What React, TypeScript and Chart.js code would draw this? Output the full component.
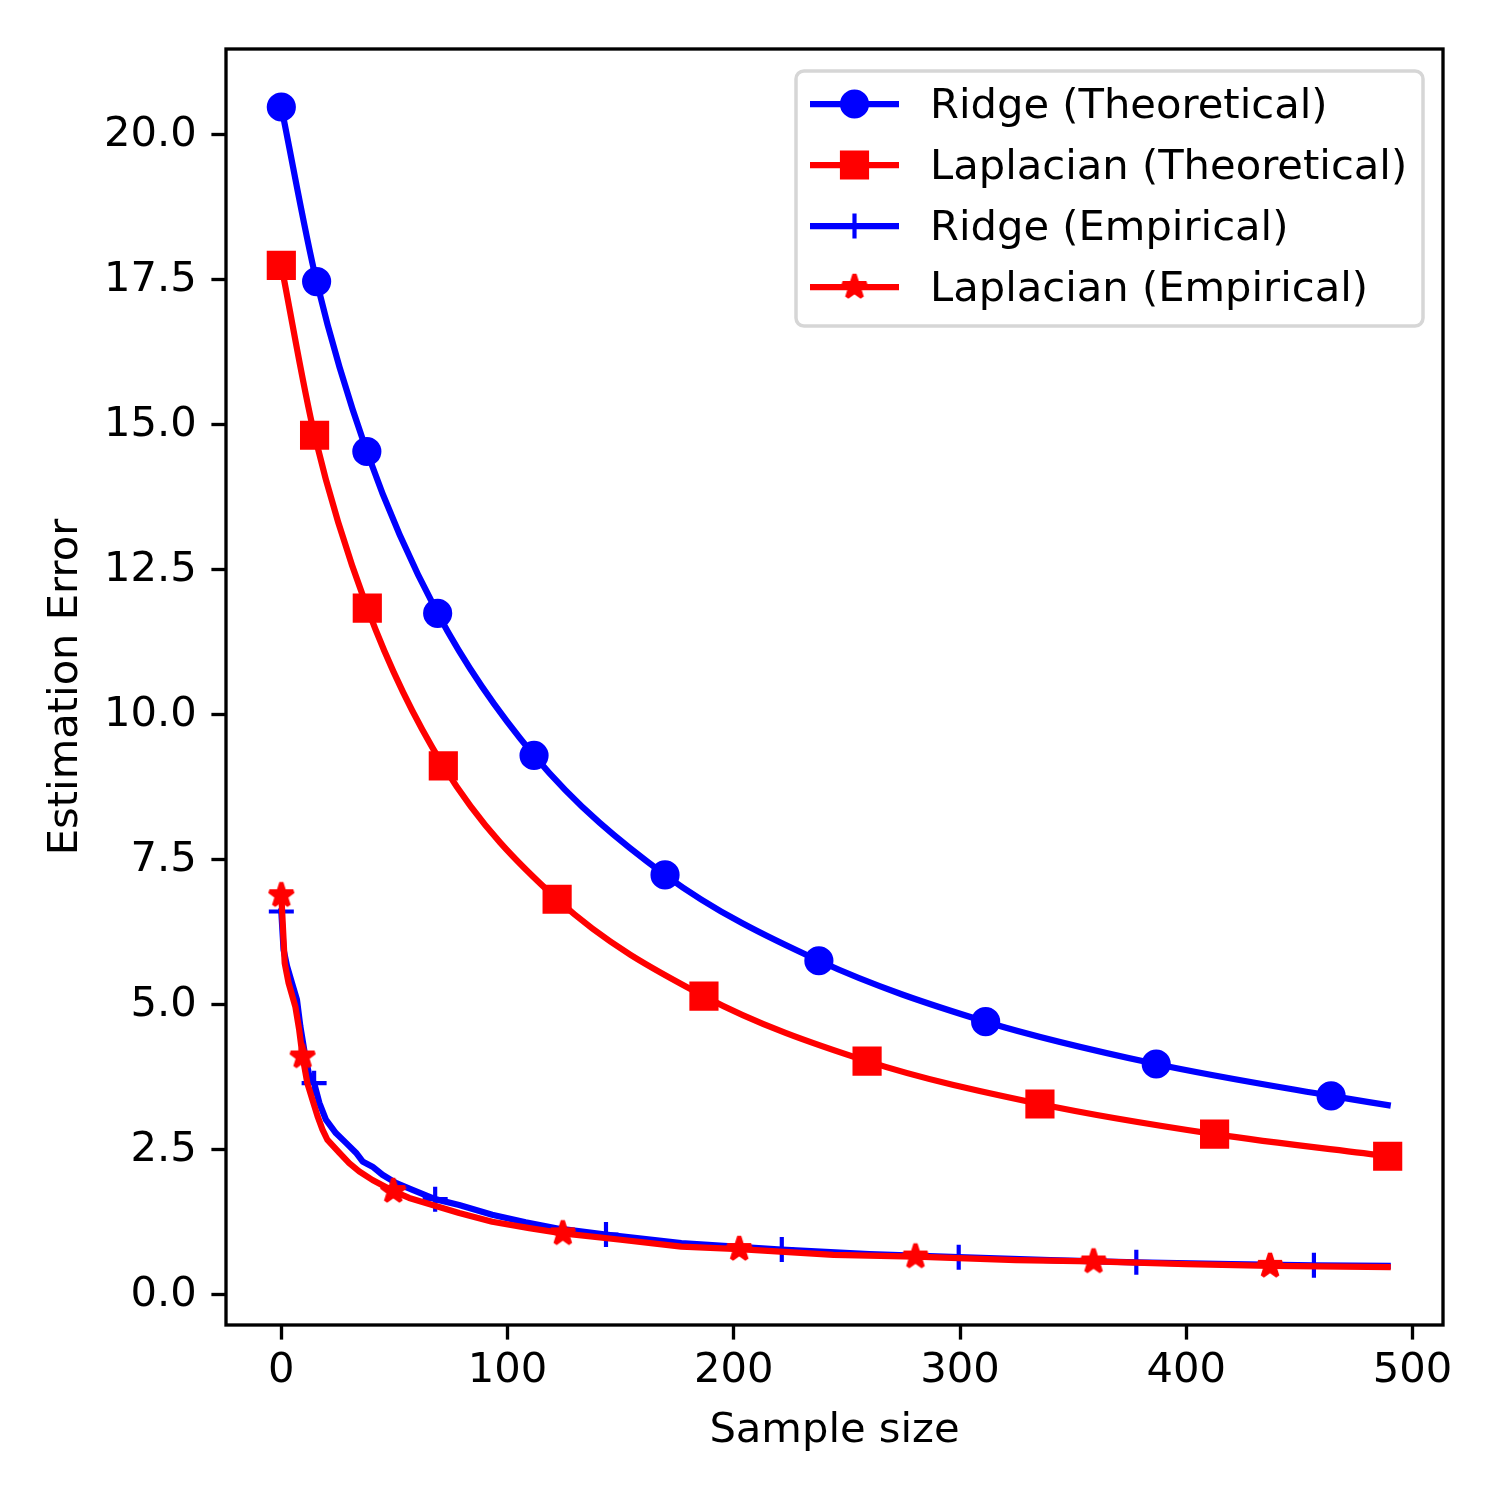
import React, { useEffect, useRef } from 'react';
import { Chart, registerables } from 'chart.js';

Chart.register(...registerables);

// ---------------- data ----------------
const RIDGE_TH_X = [0, 15.6, 37.8, 69.1, 111.7, 169.6, 237.6, 311.3, 386.7, 464, 489];
const RIDGE_TH_Y = [20.48, 17.47, 14.54, 11.75, 9.3, 7.24, 5.76, 4.71, 3.98, 3.43, 3.27];
const RIDGE_TH_MARKERS = [0, 15.6, 37.8, 69.1, 111.7, 169.6, 237.6, 311.3, 386.7, 464];

const LAP_TH_X = [0, 14.7, 38, 71.6, 121.9, 186.8, 258.9, 335.3, 412.5, 489];
const LAP_TH_Y = [17.75, 14.82, 11.84, 9.12, 6.82, 5.15, 4.03, 3.29, 2.77, 2.39];
const LAP_TH_MARKERS = [0, 14.7, 38, 71.6, 121.9, 186.8, 258.9, 335.3, 412.5, 489];

const RIDGE_EMP_X = [0, 1, 2.5, 4.7, 6.9, 8.4, 10.6, 12.4, 14.5, 16.8, 19.7, 24.1, 28.6, 33, 35.9, 40.3, 44.7, 50.6, 58, 68, 78.6, 93.2, 108, 122.7, 143.5, 176.8, 221.2, 260, 299.4, 340, 377.9, 420, 456.4, 489];
const RIDGE_EMP_Y = [6.61, 5.95, 5.67, 5.38, 5.09, 4.63, 4.11, 3.77, 3.65, 3.31, 3.02, 2.79, 2.62, 2.45, 2.3, 2.21, 2.07, 1.93, 1.81, 1.65, 1.55, 1.38, 1.25, 1.14, 1.04, 0.89, 0.78, 0.7, 0.65, 0.6, 0.56, 0.53, 0.51, 0.5];
const RIDGE_EMP_MARKERS = [0, 14.5, 68, 143.5, 221.2, 299.4, 377.9, 456.4];

const LAP_EMP_X = [0, 1.5, 3.2, 6.2, 7.9, 9.4, 11.5, 13.8, 16, 18.2, 20.4, 25.6, 30, 34.4, 40.3, 49.5, 56.5, 66.8, 78.6, 93.2, 109.6, 124.4, 150, 176.8, 202.4, 244, 280.3, 324.7, 359, 400, 437, 489];
const LAP_EMP_Y = [6.89, 5.72, 5.38, 4.97, 4.57, 4.11, 3.65, 3.36, 3.08, 2.85, 2.67, 2.45, 2.27, 2.13, 1.98, 1.79, 1.67, 1.55, 1.41, 1.26, 1.15, 1.06, 0.95, 0.83, 0.79, 0.69, 0.66, 0.6, 0.575, 0.53, 0.5, 0.48];
const LAP_EMP_MARKERS = [0, 9.4, 49.5, 124.4, 202.4, 280.3, 359, 437];

const SERIES_LABELS = ['Ridge (Theoretical)', 'Laplacian (Theoretical)', 'Ridge (Empirical)', 'Laplacian (Empirical)'];

const X_TICKS = [0, 100, 200, 300, 400, 500];
const X_TICK_LABELS = ['0', '100', '200', '300', '400', '500'];
const Y_TICKS = [0, 2.5, 5, 7.5, 10, 12.5, 15, 17.5, 20];
const Y_TICK_LABELS = ['0.0', '2.5', '5.0', '7.5', '10.0', '12.5', '15.0', '17.5', '20.0'];

const X_TITLE = 'Sample size';
const Y_TITLE = 'Estimation Error';

// ---------------- style ----------------
const FONT_FAMILY = "'DejaVu Sans', 'Liberation Sans', sans-serif";
const FONT_SIZE = 41.67;
const LINE_W = 6.25;
const EDGE_W = 4.17;
const MS = 25; // marker size in px
const BLUE = '#0000ff';
const RED = '#ff0000';

function makeStar(color: string): HTMLCanvasElement {
  const c = document.createElement('canvas');
  c.width = 34;
  c.height = 34;
  const ctx = c.getContext('2d')!;
  const R = MS / 2;
  const r = R * 0.381966;
  ctx.beginPath();
  for (let i = 0; i < 10; i++) {
    const ang = -Math.PI / 2 + (i * Math.PI) / 5;
    const rad = i % 2 === 0 ? R : r;
    const x = 17 + rad * Math.cos(ang);
    const y = 17 + rad * Math.sin(ang);
    if (i === 0) ctx.moveTo(x, y);
    else ctx.lineTo(x, y);
  }
  ctx.closePath();
  ctx.fillStyle = color;
  ctx.fill();
  ctx.lineWidth = EDGE_W;
  ctx.lineJoin = 'bevel';
  ctx.strokeStyle = color;
  ctx.stroke();
  return c;
}

function pts(xs: number[], ys: number[]) {
  return xs.map((x, i) => ({ x, y: ys[i] }));
}

function radii(xs: number[], markers: number[], r: number) {
  return xs.map((x) => (markers.includes(x) ? r : 0));
}

export default function App() {
  const ref = useRef<HTMLCanvasElement | null>(null);

  useEffect(() => {
    document.body.style.margin = '0';
    const canvas = ref.current!;
    const star = makeStar(RED);

    const frameAndLegend = {
      id: 'frameAndLegend',
      afterDatasetsDraw(chart: any) {
        const ctx = chart.ctx as CanvasRenderingContext2D;
        const a = chart.chartArea;
        ctx.save();
        ctx.strokeStyle = '#000000';
        ctx.lineWidth = 3.33;
        ctx.strokeRect(a.left, a.top, a.right - a.left, a.bottom - a.top);
        ctx.restore();
      },
      afterDraw(chart: any) {
        const ctx = chart.ctx as CanvasRenderingContext2D;
        ctx.save();
        // legend box
        const bx = 796, by = 71, bw = 627, bh = 255, br = 8;
        ctx.beginPath();
        ctx.moveTo(bx + br, by);
        ctx.lineTo(bx + bw - br, by);
        ctx.arcTo(bx + bw, by, bx + bw, by + br, br);
        ctx.lineTo(bx + bw, by + bh - br);
        ctx.arcTo(bx + bw, by + bh, bx + bw - br, by + bh, br);
        ctx.lineTo(bx + br, by + bh);
        ctx.arcTo(bx, by + bh, bx, by + bh - br, br);
        ctx.lineTo(bx, by + br);
        ctx.arcTo(bx, by, bx + br, by, br);
        ctx.closePath();
        ctx.fillStyle = 'rgba(255,255,255,0.8)';
        ctx.fill();
        ctx.strokeStyle = '#d6d6d6';
        ctx.lineWidth = 3.5;
        ctx.stroke();

        const rows = [104, 165, 226, 287];
        const colors = [BLUE, RED, BLUE, RED];
        const x0 = 810, x1 = 899, xm = 854.5;
        rows.forEach((y, i) => {
          ctx.beginPath();
          ctx.moveTo(x0, y);
          ctx.lineTo(x1, y);
          ctx.strokeStyle = colors[i];
          ctx.lineWidth = LINE_W;
          ctx.lineCap = 'butt';
          ctx.stroke();
          ctx.fillStyle = colors[i];
          ctx.strokeStyle = colors[i];
          ctx.lineWidth = EDGE_W;
          if (i === 0) {
            ctx.beginPath();
            ctx.arc(xm, y, MS / 2, 0, Math.PI * 2);
            ctx.fill();
            ctx.stroke();
          } else if (i === 1) {
            ctx.beginPath();
            ctx.rect(xm - MS / 2, y - MS / 2, MS, MS);
            ctx.fill();
            ctx.lineJoin = 'miter';
            ctx.stroke();
          } else if (i === 2) {
            ctx.beginPath();
            ctx.moveTo(xm - MS / 2, y);
            ctx.lineTo(xm + MS / 2, y);
            ctx.moveTo(xm, y - MS / 2);
            ctx.lineTo(xm, y + MS / 2);
            ctx.stroke();
          } else {
            ctx.drawImage(star, xm - star.width / 2, y - star.height / 2);
          }
          ctx.fillStyle = '#000000';
          ctx.font = `${FONT_SIZE}px ${FONT_FAMILY}`;
          ctx.textBaseline = 'middle';
          ctx.textAlign = 'left';
          ctx.fillText(SERIES_LABELS[i], 930, y + 3);
        });
        ctx.restore();
      },
    };

    const tickFont = { family: FONT_FAMILY, size: FONT_SIZE };

    const chart = new Chart(canvas, {
      type: 'line',
      data: {
        datasets: [
          {
            label: SERIES_LABELS[0],
            data: pts(RIDGE_TH_X, RIDGE_TH_Y),
            borderColor: BLUE,
            backgroundColor: BLUE,
            borderWidth: LINE_W,
            cubicInterpolationMode: 'monotone',
            pointStyle: 'circle',
            pointRadius: radii(RIDGE_TH_X, RIDGE_TH_MARKERS, MS / 2),
            pointBorderWidth: EDGE_W,
            pointBackgroundColor: BLUE,
            pointBorderColor: BLUE,
            fill: false,
            order: 4,
          },
          {
            label: SERIES_LABELS[1],
            data: pts(LAP_TH_X, LAP_TH_Y),
            borderColor: RED,
            backgroundColor: RED,
            borderWidth: LINE_W,
            cubicInterpolationMode: 'monotone',
            pointStyle: 'rect',
            pointRadius: radii(LAP_TH_X, LAP_TH_MARKERS, (MS / 2) * Math.SQRT2),
            pointBorderWidth: EDGE_W,
            pointBackgroundColor: RED,
            pointBorderColor: RED,
            fill: false,
            order: 3,
          },
          {
            label: SERIES_LABELS[2],
            data: pts(RIDGE_EMP_X, RIDGE_EMP_Y),
            borderColor: BLUE,
            backgroundColor: BLUE,
            borderWidth: LINE_W,
            tension: 0,
            pointStyle: 'cross',
            pointRadius: radii(RIDGE_EMP_X, RIDGE_EMP_MARKERS, MS / 2),
            pointBorderWidth: EDGE_W,
            pointBackgroundColor: BLUE,
            pointBorderColor: BLUE,
            fill: false,
            order: 2,
          },
          {
            label: SERIES_LABELS[3],
            data: pts(LAP_EMP_X, LAP_EMP_Y),
            borderColor: RED,
            backgroundColor: RED,
            borderWidth: LINE_W,
            tension: 0,
            pointStyle: star as any,
            pointRadius: radii(LAP_EMP_X, LAP_EMP_MARKERS, MS / 2),
            pointBorderWidth: 0,
            pointBackgroundColor: RED,
            pointBorderColor: RED,
            fill: false,
            order: 1,
          },
        ],
      },
      options: {
        animation: false,
        responsive: false,
        devicePixelRatio: 1,
        events: [],
        layout: { padding: { left: 0, top: 49, right: 57, bottom: 0 } },
        elements: {
          line: { borderJoinStyle: 'round', borderCapStyle: 'square' },
          point: { hoverRadius: 0 },
        },
        plugins: {
          legend: { display: false },
          tooltip: { enabled: false },
        },
        scales: {
          x: {
            type: 'linear',
            min: -24.45,
            max: 513.45,
            afterBuildTicks: (scale: any) => {
              scale.ticks = X_TICKS.map((v) => ({ value: v }));
            },
            afterFit: (scale: any) => {
              scale.height = 175;
            },
            border: { display: false },
            grid: {
              display: true,
              drawOnChartArea: false,
              drawTicks: true,
              tickLength: 14.6,
              tickWidth: 3.33,
              tickColor: '#000000',
            },
            ticks: {
              autoSkip: false,
              maxRotation: 0,
              minRotation: 0,
              padding: 7,
              color: '#000000',
              font: tickFont,
              callback: (v: any) => {
                const i = X_TICKS.indexOf(Number(v));
                return i >= 0 ? X_TICK_LABELS[i] : '';
              },
            },
            title: {
              display: true,
              text: X_TITLE,
              color: '#000000',
              font: tickFont,
              padding: { top: 0, bottom: 44 },
            },
          },
          y: {
            type: 'linear',
            min: -0.52,
            max: 21.48,
            afterBuildTicks: (scale: any) => {
              scale.ticks = Y_TICKS.map((v) => ({ value: v }));
            },
            afterFit: (scale: any) => {
              scale.width = 226;
            },
            border: { display: false },
            grid: {
              display: true,
              drawOnChartArea: false,
              drawTicks: true,
              tickLength: 14.6,
              tickWidth: 3.33,
              tickColor: '#000000',
            },
            ticks: {
              autoSkip: false,
              padding: 14.6,
              color: '#000000',
              font: tickFont,
              callback: (v: any) => {
                const i = Y_TICKS.indexOf(Number(v));
                return i >= 0 ? Y_TICK_LABELS[i] : '';
              },
            },
            title: {
              display: true,
              text: Y_TITLE,
              color: '#000000',
              font: tickFont,
              padding: { top: 41, bottom: 0 },
            },
          },
        },
      },
      plugins: [frameAndLegend],
    } as any);

    return () => {
      chart.destroy();
    };
  }, []);

  return (
    <div style={{ width: 1500, height: 1500, background: '#ffffff' }}>
      <canvas ref={ref} width={1500} height={1500} style={{ display: 'block', width: 1500, height: 1500 }} />
    </div>
  );
}
